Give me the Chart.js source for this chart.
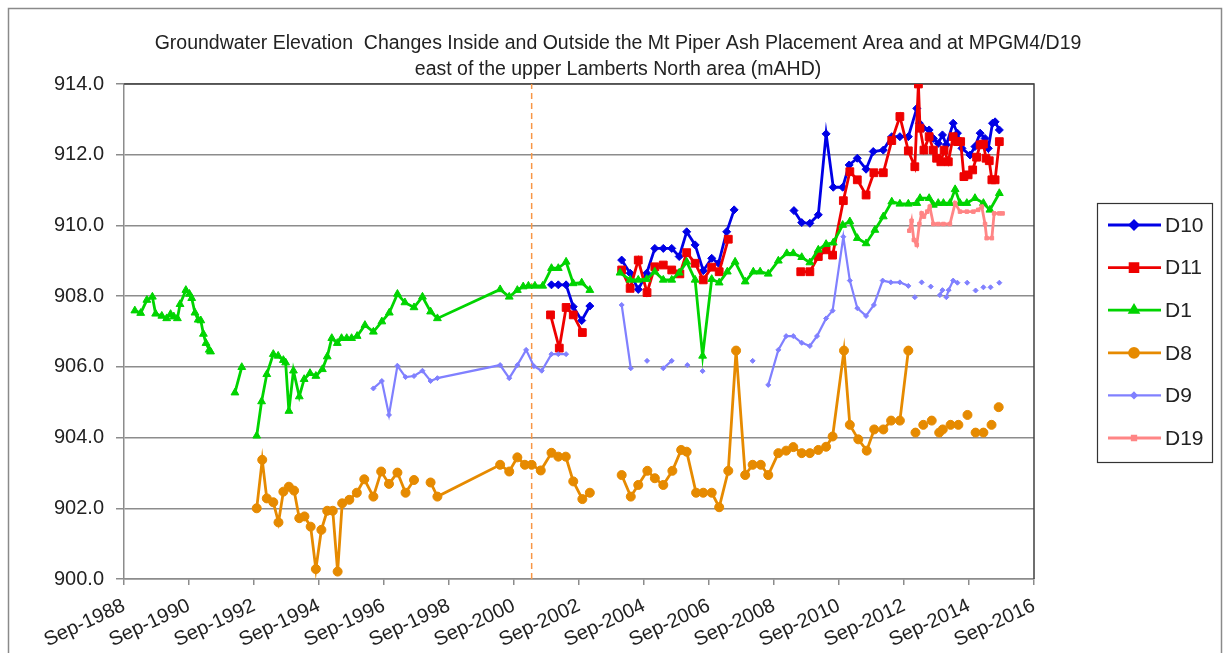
<!DOCTYPE html>
<html>
<head>
<meta charset="utf-8">
<title>Groundwater Elevation Changes - Mt Piper</title>
<script src="https://cdn.jsdelivr.net/npm/chart.js@4.4.1/dist/chart.umd.min.js"></script>
<style>
    body { margin: 0; background: #fff; }
    #wrap { width: 1224px; height: 653px; }
</style>
</head>
<body>
<div id="wrap"><canvas id="gwChart"></canvas></div>
<script>
// ==================== Data (decimal years / mAHD, null = gap) ====================
const tickLabels = ['Sep-1988', 'Sep-1990', 'Sep-1992', 'Sep-1994', 'Sep-1996', 'Sep-1998', 'Sep-2000',
    'Sep-2002', 'Sep-2004', 'Sep-2006', 'Sep-2008', 'Sep-2010', 'Sep-2012', 'Sep-2014', 'Sep-2016'];

const d10Years = [2001.82, 2002.03, 2002.27, 2002.49, 2002.75, 2003.00, 2003.5,
    2003.98, 2004.24, 2004.49, 2004.75, 2005.00, 2005.26, 2005.52, 2005.75, 2005.98, 2006.24, 2006.49, 2006.75, 2006.96, 2007.21, 2007.44, 2008.3,
    2009.28, 2009.52, 2009.77, 2010.03, 2010.27, 2010.49, 2010.78, 2010.98, 2011.23, 2011.50, 2011.72, 2012.03, 2012.29, 2012.54, 2012.80,
    2013.06, 2013.14, 2013.26, 2013.44, 2013.57, 2013.72, 2013.85, 2013.97, 2014.18, 2014.31, 2014.45, 2014.70, 2014.85, 2015.01, 2015.16,
    2015.26, 2015.39, 2015.47, 2015.60];
const d10Levels = [908.32, 908.32, 908.32, 907.70, 907.31, 907.72, null,
    909.02, 908.65, 908.19, 908.65, 909.35, 909.35, 909.35, 909.12, 909.82, 909.45, 908.72, 909.07, 908.93, 909.82, 910.44, null,
    910.42, 910.08, 910.06, 910.30, 912.59, 911.08, 911.08, 911.71, 911.90, 911.59, 912.09, 912.13, 912.51, 912.51, 912.51,
    913.31, 912.89, 912.75, 912.70, 912.46, 912.32, 912.56, 912.28, 912.89, 912.61, 912.18, 911.99, 912.23, 912.61, 912.46,
    912.18, 912.89, 912.93, 912.70];

const d11Years = [2001.79, 2002.06, 2002.27, 2002.49, 2002.77, 2003.5,
    2003.98, 2004.24, 2004.49, 2004.76, 2005.00, 2005.26, 2005.52, 2005.77, 2005.98, 2006.24, 2006.49, 2006.75, 2006.98, 2007.26, 2008.3,
    2009.49, 2009.77, 2010.03, 2010.27, 2010.47, 2010.80, 2011.00, 2011.23, 2011.50, 2011.74, 2012.03, 2012.29, 2012.54, 2012.80,
    2013.00, 2013.11, 2013.16, 2013.28, 2013.44, 2013.57, 2013.67, 2013.80, 2013.90, 2014.03, 2014.18, 2014.31, 2014.41, 2014.51,
    2014.64, 2014.78, 2014.90, 2015.01, 2015.11, 2015.19, 2015.29, 2015.37, 2015.47, 2015.60];
const d11Levels = [907.47, 906.53, 907.68, 907.47, 906.97, null,
    908.74, 908.22, 909.02, 908.10, 908.83, 908.88, 908.74, 908.63, 909.23, 908.93, 908.46, 908.82, 908.69, 909.61, null,
    908.69, 908.69, 909.12, 909.31, 909.16, 910.70, 911.52, 911.29, 910.86, 911.49, 911.49, 912.40, 913.08, 912.11,
    911.66, 914.00, 912.75, 912.13, 912.51, 912.13, 911.90, 911.80, 912.13, 911.80, 912.51, 912.37, 912.37, 911.38,
    911.43, 911.57, 911.93, 912.28, 912.30, 911.90, 911.83, 911.29, 911.29, 912.37];

const d1Years = [1989.00, 1989.18, 1989.37, 1989.54, 1989.64, 1989.83, 1989.98, 1990.10, 1990.20, 1990.31, 1990.39, 1990.57,
    1990.68, 1990.75, 1990.85, 1990.95, 1991.03, 1991.11, 1991.19, 1991.29, 1991.33, 1991.7,
    1992.08, 1992.29, 1992.5,
    1992.75, 1992.90, 1993.06, 1993.26, 1993.41, 1993.57, 1993.64, 1993.74, 1993.88, 1994.06, 1994.21, 1994.39, 1994.57,
    1994.77, 1994.92, 1995.06, 1995.23, 1995.36, 1995.52, 1995.67, 1995.84, 1996.08, 1996.34, 1996.60, 1996.83, 1997.08,
    1997.31, 1997.59, 1997.85, 1998.10, 1998.31, 2000.24, 2000.52, 2000.77, 2000.95, 2001.11, 2001.31, 2001.55, 2001.82,
    2002.03, 2002.27, 2002.49, 2002.75, 2003.00, 2003.5,
    2003.93, 2004.24, 2004.49, 2004.75, 2005.00, 2005.26, 2005.52, 2005.75, 2005.98, 2006.24, 2006.47, 2006.75, 2006.98,
    2007.23, 2007.47, 2007.78, 2008.03, 2008.24, 2008.49, 2008.80, 2009.06, 2009.26, 2009.52, 2009.77, 2010.03, 2010.27,
    2010.49, 2010.78, 2011.00, 2011.23, 2011.50, 2011.77, 2012.03, 2012.29, 2012.54, 2012.80, 2013.06, 2013.16, 2013.44,
    2013.57, 2013.72, 2013.88, 2014.08, 2014.24, 2014.39, 2014.60, 2014.85, 2015.11, 2015.31, 2015.60];
const d1Levels = [907.59, 907.52, 907.89, 907.98, 907.50, 907.44, 907.37, 907.49, 907.42, 907.37, 907.77, 908.17,
    908.06, 907.94, 907.53, 907.33, 907.31, 906.93, 906.67, 906.48, 906.43, null,
    905.27, 905.99, null,
    904.05, 905.02, 905.79, 906.36, 906.31, 906.19, 906.12, 904.75, 905.89, 905.16, 905.65, 905.82, 905.74,
    905.93, 906.29, 906.81, 906.67, 906.81, 906.81, 906.81, 906.87, 907.18, 906.99, 907.28, 907.53, 908.06,
    907.82, 907.68, 907.98, 907.56, 907.37, 908.19, 907.98, 908.17, 908.27, 908.29, 908.29, 908.29, 908.79,
    908.79, 908.97, 908.36, 908.38, 908.17, null,
    908.66, 908.46, 908.46, 908.48, 908.69, 908.46, 908.46, 908.66, 908.97, 908.46, 906.31, 908.48, 908.38,
    908.69, 908.97, 908.41, 908.69, 908.69, 908.63, 909.00, 909.21, 909.21, 909.10, 908.95, 909.31, 909.47,
    909.51, 910.01, 910.11, 909.64, 909.49, 909.87, 910.25, 910.67, 910.61, 910.61, 910.63, 910.77, 910.77,
    910.58, 910.63, 910.63, 910.63, 911.02, 910.63, 910.63, 910.77, 910.63, 910.44, 910.91];

const d8Years = [1992.75, 1992.92, 1993.06, 1993.26, 1993.42, 1993.57, 1993.74, 1993.90, 1994.06, 1994.22, 1994.41, 1994.57,
    1994.74, 1994.92, 1995.09, 1995.24, 1995.38, 1995.60, 1995.83, 1996.06, 1996.34, 1996.58, 1996.82, 1997.08, 1997.33,
    1997.59, 1997.85,
    1998.10, 1998.31, 2000.24, 2000.52, 2000.77, 2001.00, 2001.21, 2001.49, 2001.82, 2002.03, 2002.26, 2002.49, 2002.77,
    2003.00, 2003.5,
    2003.98, 2004.26, 2004.49, 2004.77, 2005.00, 2005.26, 2005.54, 2005.81, 2005.98, 2006.27, 2006.49, 2006.75, 2006.98,
    2007.26, 2007.50, 2007.78, 2008.01, 2008.26, 2008.49, 2008.80, 2009.04, 2009.26, 2009.52, 2009.77, 2010.03, 2010.27,
    2010.47, 2010.82, 2011.00, 2011.26, 2011.52, 2011.75, 2012.03, 2012.27, 2012.54, 2012.80, 2012.9,
    2013.02, 2013.1, 2013.26, 2013.4, 2013.52, 2013.6, 2013.75, 2013.86, 2014.0, 2014.10, 2014.2, 2014.34, 2014.5,
    2014.62, 2014.7, 2014.87, 2015.0, 2015.11, 2015.2, 2015.36, 2015.5, 2015.58];
const d8Levels = [902.00, 903.37, 902.28, 902.17, 901.60, 902.47, 902.61, 902.50, 901.72, 901.77, 901.48, 900.28,
    901.39, 901.93, 901.93, 900.21, 902.14, 902.24, 902.44, 902.82, 902.33, 903.04, 902.69, 903.01, 902.44,
    902.80, null,
    902.73, 902.33, 903.23, 903.04, 903.44, 903.23, 903.23, 903.07, 903.57, 903.46, 903.46, 902.76, 902.26,
    902.44, null,
    902.94, 902.33, 902.66, 903.06, 902.85, 902.66, 903.06, 903.65, 903.60, 902.44, 902.44, 902.44, 902.03,
    903.06, 906.46, 902.94, 903.23, 903.23, 902.94, 903.56, 903.63, 903.73, 903.56, 903.56, 903.65, 903.74,
    904.03, 906.46, 904.36, 903.95, 903.63, 904.23, 904.23, 904.48, 904.48, 906.46, null,
    904.14, null, 904.36, null, 904.48, null, 904.14, 904.23, null, 904.36, null, 904.36, null,
    904.64, null, 904.14, null, 904.14, null, 904.36, null, 904.86];

const d9Years = [1996.34, 1996.60, 1996.82, 1997.08, 1997.33, 1997.59, 1997.85, 1998.10, 1998.31, 2000.24, 2000.52, 2000.77,
    2001.04, 2001.28, 2001.52, 2001.82, 2002.03, 2002.27, 2003.5,
    2003.98, 2004.26, 2004.5, 2004.76, 2005.0, 2005.26, 2005.52, 2005.8, 2006.00, 2006.2, 2006.47, 2007.0, 2008.01, 2008.3,
    2008.49, 2008.80, 2009.04, 2009.26, 2009.52, 2009.77, 2009.99, 2010.27, 2010.47, 2010.80, 2011.00, 2011.23, 2011.50,
    2011.74, 2012.01, 2012.26, 2012.54, 2012.80, 2012.9,
    2013.00, 2013.1, 2013.21, 2013.35, 2013.49, 2013.6, 2013.77, 2013.85, 2013.9, 2013.97, 2014.04, 2014.18, 2014.31, 2014.45,
    2014.61, 2014.75, 2014.87, 2015.0, 2015.11, 2015.2, 2015.33, 2015.5, 2015.60];
const d9Levels = [905.39, 905.60, 904.64, 906.03, 905.71, 905.74, 905.89, 905.60, 905.68, 906.05, 905.68, 906.05,
    906.48, 906.02, 905.89, 906.36, 906.36, 906.36, null,
    907.75, 905.96, null, 906.17, null, 905.96, 906.17, null, 906.05, null, 905.88, null, 906.17, null,
    905.49, 906.48, 906.87, 906.87, 906.68, 906.59, 906.87, 907.37, 907.59, 909.68, 908.44, 907.66, 907.44,
    907.75, 908.44, 908.39, 908.39, 908.29, null,
    907.97, null, 908.39, null, 908.27, null, 908.03, 908.17, null, 907.97, 908.17, 908.44, 908.38, null,
    908.38, null, 908.16, null, 908.25, null, 908.25, null, 908.38];

const d19Years = [2012.83, 2012.90, 2012.97, 2013.06, 2013.14, 2013.21, 2013.28, 2013.38, 2013.46, 2013.57, 2013.72, 2013.88,
    2014.08, 2014.24, 2014.39, 2014.60, 2014.80, 2014.95, 2015.06, 2015.16, 2015.21, 2015.37, 2015.44, 2015.60, 2015.70];
const d19Levels = [909.85, 910.13, 909.59, 909.45, 910.04, 910.34, 910.25, 910.39, 910.53, 910.04, 910.04, 910.04,
    910.04, 910.63, 910.39, 910.39, 910.39, 910.44, 910.53, 910.04, 909.64, 909.64, 910.34, 910.34, 910.34];

// dashed marker (approx. Mar-2001)
const markerYear = 2001.21;

const FONT = '"Liberation Sans", Arial, sans-serif';

// title and legend use a narrow face when one is installed
function hasFont(name) {
    const c = document.createElement('canvas').getContext('2d');
    const probe = 'Groundwater Elevation D10';
    c.font = '40px monospace';
    const base = c.measureText(probe).width;
    c.font = '40px "' + name + '", monospace';
    return c.measureText(probe).width !== base;
}
const narrow = hasFont('Liberation Sans Narrow');
const TITLE_FONT = narrow
    ? { family: '"Liberation Sans Narrow", ' + FONT, size: 24 }
    : { family: FONT, size: 19.5 };
const LEGEND_FONT = narrow ? '25px "Liberation Sans Narrow", ' + FONT : '21px ' + FONT;

// ==================== Helpers ====================
function toPoints(years, levels) {
    return years.map((x, i) => ({ x: x, y: levels[i] }));
}

function wellSeries(label, years, levels, color, style, radius, width, order) {
    return {
        label: label,
        data: toPoints(years, levels),
        borderColor: color,
        backgroundColor: color,
        borderWidth: width,
        pointStyle: style,
        pointRadius: radius,
        pointBorderWidth: 1,
        pointBackgroundColor: color,
        pointBorderColor: color,
        spanGaps: false,
        tension: 0,
        order: order,
        isWell: true
    };
}

// ==================== Plugins ====================
const frame = {
    id: 'frame',
    beforeDraw(chart) {
        const ctx = chart.ctx;
        ctx.save();
        ctx.fillStyle = '#ffffff';
        ctx.fillRect(0, 0, chart.width, chart.height);
        ctx.strokeStyle = '#8a8a8a';
        ctx.lineWidth = 1.5;
        ctx.strokeRect(8.5, 8.5, 1213, 700);
        ctx.restore();
    },
    beforeDatasetsDraw(chart) {
        const a = chart.chartArea;
        const ctx = chart.ctx;
        ctx.save();
        ctx.strokeStyle = '#404040';
        ctx.lineWidth = 1.5;
        ctx.beginPath();
        ctx.moveTo(a.left, a.top);
        ctx.lineTo(a.right, a.top);
        ctx.lineTo(a.right, a.bottom);
        ctx.stroke();
        ctx.restore();
    }
};

const wellLegend = {
    id: 'wellLegend',
    afterDraw(chart) {
        const ctx = chart.ctx;
        const sets = chart.data.datasets.filter(d => d.isWell);
        ctx.save();
        ctx.strokeStyle = '#333';
        ctx.lineWidth = 1.2;
        ctx.strokeRect(1097.5, 203.5, 115, 259);
        sets.forEach((ds, i) => {
            const y = 225 + i * 42.6;
            ctx.strokeStyle = ds.borderColor;
            ctx.lineWidth = ds.borderWidth;
            ctx.beginPath();
            ctx.moveTo(1108, y);
            ctx.lineTo(1161, y);
            ctx.stroke();
            ctx.fillStyle = ds.borderColor;
            Chart.helpers.drawPoint(ctx, {
                pointStyle: ds.pointStyle, radius: ds.pointRadius, rotation: 0, borderWidth: 1
            }, 1134, y);
            ctx.fillStyle = '#222';
            ctx.font = LEGEND_FONT;
            ctx.textAlign = 'left';
            ctx.textBaseline = 'middle';
            ctx.fillText(ds.label, 1165, y + 1);
        });
        ctx.restore();
    }
};

// ==================== Chart ====================
const tickYears = tickLabels.map(t => parseInt(t.slice(4), 10) + 8 / 12);

const ctx = document.getElementById('gwChart').getContext('2d');
new Chart(ctx, {
    type: 'line',
    data: {
        datasets: [
            wellSeries('D10', d10Years, d10Levels, '#0000e6', 'rectRot', 4, 2.8, 6),
            wellSeries('D11', d11Years, d11Levels, '#ee0000', 'rect', 5.5, 2.8, 5),
            wellSeries('D1', d1Years, d1Levels, '#00d400', 'triangle', 4.5, 2.8, 4),
            wellSeries('D8', d8Years, d8Levels, '#e68a00', 'circle', 4.5, 2.8, 3),
            wellSeries('D9', d9Years, d9Levels, '#8080ff', 'rectRot', 2.5, 2.2, 2),
            wellSeries('D19', d19Years, d19Levels, '#ff8585', 'rect', 2.5, 2.8, 1),
            {
                label: 'marker',
                data: [{ x: markerYear, y: 900 }, { x: markerYear, y: 914 }],
                borderColor: '#f79646',
                borderWidth: 1.5,
                borderDash: [6, 4],
                pointRadius: 0,
                order: 10
            }
        ]
    },
    options: {
        responsive: true,
        maintainAspectRatio: false,
        animation: false,
        events: [],
        layout: { padding: { left: 12 } },
        plugins: {
            legend: { display: false },
            tooltip: { enabled: false },
            title: {
                display: true,
                text: ['Groundwater Elevation  Changes Inside and Outside the Mt Piper Ash Placement Area and at MPGM4/D19',
                    'east of the upper Lamberts North area (mAHD)'],
                color: '#222',
                font: { family: TITLE_FONT.family, size: TITLE_FONT.size, weight: 'normal', lineHeight: 26.5 / TITLE_FONT.size },
                padding: { top: 30, bottom: 1 }
            }
        },
        scales: {
            x: {
                type: 'linear',
                min: tickYears[0],
                max: tickYears[tickYears.length - 1],
                afterBuildTicks: function (scale) {
                    scale.ticks = tickYears.map(v => ({ value: v }));
                },
                afterFit: function (scale) {
                    scale.height = 74;
                },
                ticks: {
                    autoSkip: false,
                    minRotation: 25,
                    maxRotation: 25,
                    padding: 9,
                    color: '#222',
                    font: { family: FONT, size: 20 },
                    callback: function (value) {
                        const i = tickYears.findIndex(v => Math.abs(v - value) < 0.01);
                        return i >= 0 ? tickLabels[i] : '';
                    }
                },
                grid: { drawOnChartArea: false, drawTicks: true, tickLength: 6, color: '#8c8c8c', lineWidth: 1.5 },
                border: { color: '#8c8c8c', width: 1.5 }
            },
            y: {
                min: 900,
                max: 914,
                afterFit: function (scale) {
                    scale.width = 112;
                },
                ticks: {
                    stepSize: 2,
                    padding: 12,
                    color: '#222',
                    font: { family: FONT, size: 20 },
                    callback: function (value) {
                        return value.toFixed(1);
                    }
                },
                grid: { color: '#8c8c8c', lineWidth: 1.5, tickLength: 8 },
                border: { color: '#8c8c8c', width: 1.5 }
            },
            legendSpace: {
                type: 'linear',
                position: 'right',
                display: true,
                ticks: { display: false },
                grid: { display: false },
                border: { display: false },
                afterFit: function (scale) {
                    scale.width = 190;
                }
            }
        }
    },
    plugins: [frame, wellLegend]
});
</script>
</body>
</html>
